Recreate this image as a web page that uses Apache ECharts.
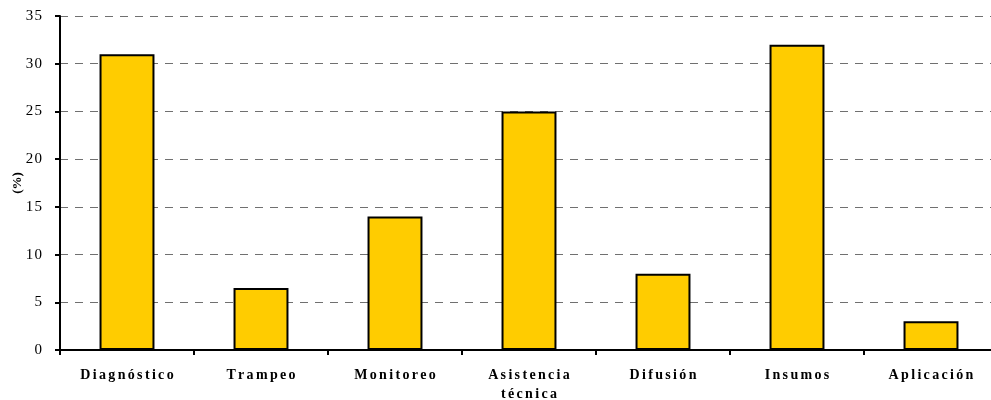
<!DOCTYPE html>
<html>
<head>
<meta charset="utf-8">
<script src="https://cdn.jsdelivr.net/npm/echarts@6/dist/echarts.min.js"></script>
<style>
  html, body { margin: 0; padding: 0; background: #fff; }
  #chart { width: 991px; height: 400px; }
</style>
</head>
<body>
<div id="chart"></div>
<script>
// Activities and their share (%)
const categories = ['Diagnóstico', 'Trampeo', 'Monitoreo', 'Asistencia\ntécnica', 'Difusión', 'Insumos', 'Aplicación'];
const values = [31, 6.5, 14, 25, 8, 32, 3];
const yTicks = [0, 5, 10, 15, 20, 25, 30, 35];

// Spread letters apart with narrow spaces, keeping line breaks
const spaced = (s, gap) => s.split('\n').map(line => line.split('').join(gap)).join('\n');

const chart = echarts.init(document.getElementById('chart'), null, { renderer: 'canvas' });
chart.setOption({
  animation: false,
  grid: { left: 60, right: -7, top: 16, bottom: 50, containLabel: false, outerBoundsMode: 'none' },
  xAxis: {
    type: 'category',
    data: categories,
    axisLine: { lineStyle: { color: '#000', width: 2 } },
    axisTick: { show: true, length: 5, alignWithLabel: false, lineStyle: { color: '#000', width: 2 } },
    axisLabel: {
      interval: 0,
      margin: 16,
      color: '#000',
      fontFamily: 'Liberation Serif',
      fontWeight: 'bold',
      fontSize: 14,
      lineHeight: 19,
      formatter: v => spaced(v, '\u2006')
    }
  },
  yAxis: {
    type: 'value',
    min: yTicks[0],
    max: yTicks[yTicks.length - 1],
    interval: 5,
    name: '(%)',
    nameLocation: 'middle',
    nameRotate: 90,
    nameGap: 36,
    nameMoveOverlap: false,
    nameTextStyle: { color: '#000', fontFamily: 'Liberation Serif', fontWeight: 'bold', fontSize: 13 },
    axisLine: { show: true, lineStyle: { color: '#000', width: 2 } },
    axisTick: { show: true, length: 5, lineStyle: { color: '#000', width: 2 } },
    axisLabel: {
      margin: 18,
      color: '#000',
      fontFamily: 'Liberation Serif',
      fontSize: 15,
      formatter: v => spaced(String(v), '\u200A')
    },
    splitLine: { show: true, lineStyle: { color: '#707070', type: [8, 7], width: 1 } }
  },
  series: [{
    type: 'bar',
    data: values,
    barWidth: '41%',
    itemStyle: { color: '#FFCC00', borderColor: '#000', borderWidth: 2 }
  }]
});
</script>
</body>
</html>
